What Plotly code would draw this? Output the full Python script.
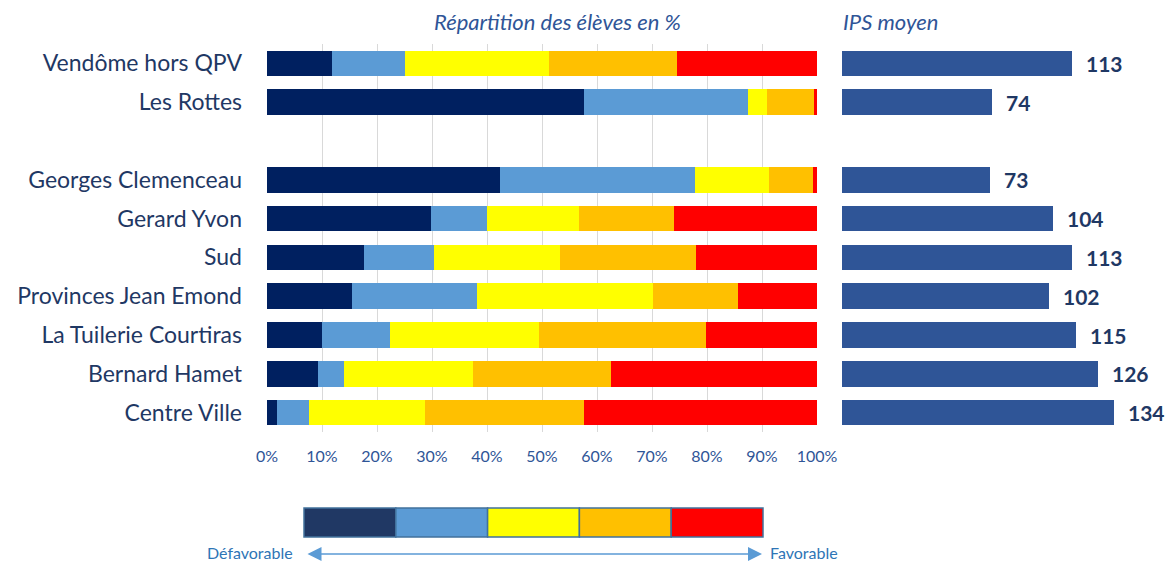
import plotly.graph_objects as go

W, H = 1173, 562

# Schools (top to bottom); " " is an empty spacer row
schools = ["Vendôme hors QPV", "Les Rottes", " ", "Georges Clemenceau", "Gerard Yvon",
           "Sud", "Provinces Jean Emond", "La Tuilerie Courtiras", "Bernard Hamet", "Centre Ville"]

# Share of pupils (%) per social-position group, from least to most favoured
grp1 = [11.8, 57.7, None, 42.4, 29.8, 17.6, 15.4, 10.0, 9.3, 1.8]
grp2 = [13.3, 29.7, None, 35.5, 10.2, 12.8, 22.7, 12.4, 4.7, 5.8]
grp3 = [26.1, 3.5, None, 13.4, 16.7, 22.8, 32.0, 27.0, 23.5, 21.2]
grp4 = [23.3, 8.5, None, 7.9, 17.3, 24.8, 15.5, 30.4, 25.0, 28.9]
grp5 = [25.5, 0.6, None, 0.8, 26.0, 22.0, 14.4, 20.2, 37.5, 42.3]

# Mean social-position index
ips = [113, 74, None, 73, 104, 113, 102, 115, 126, 134]

seg_colors = ["#002060", "#5B9BD5", "#FFFF00", "#FFC000", "#FF0000"]
key_colors = ["#203864", "#5B9BD5", "#FFFF00", "#FFC000", "#FF0000"]
x_ticks = [0, 10, 20, 30, 40, 50, 60, 70, 80, 90, 100]

NAVY = "#1F3864"
BLUE = "#2F5597"
FONT = "Lato"


def px_x(p):
    return p / W


def px_y(p):
    return 1 - p / H


fig = go.Figure()

for vals, col in zip([grp1, grp2, grp3, grp4, grp5], seg_colors):
    fig.add_trace(go.Bar(
        x=vals, y=schools, orientation="h", marker=dict(color=col, line=dict(width=0)),
        xaxis="x", yaxis="y", showlegend=False, hoverinfo="x+y",
    ))

fig.add_trace(go.Bar(
    x=ips, y=schools, orientation="h", marker=dict(color=BLUE, line=dict(width=0)),
    xaxis="x2", yaxis="y2", showlegend=False,
))

# Value labels next to the index bars
for s, v in zip(schools, ips):
    if v is None:
        continue
    fig.add_annotation(x=v, y=s, xref="x2", yref="y2", text=f"<b>{v}</b>", showarrow=False,
                       xanchor="left", xshift=12, font=dict(family=FONT, size=21, color=NAVY))

y_dom = [px_y(432), px_y(44)]
fig.update_layout(
    width=W, height=H, margin=dict(l=0, r=0, t=0, b=0, autoexpand=False),
    paper_bgcolor="white", plot_bgcolor="white",
    barmode="stack", bargap=0.34,
    font=dict(family=FONT, color=NAVY),
    xaxis=dict(domain=[px_x(267), px_x(817)], range=[0, 100], tickvals=x_ticks,
               ticktext=[f"{t}%" for t in x_ticks], showgrid=True, gridcolor="#D9D9D9",
               gridwidth=1, zeroline=False, showline=False, ticks="",
               tickfont=dict(family=FONT, size=16, color=BLUE), ticklabelstandoff=13,
               automargin=False, anchor="y"),
    yaxis=dict(domain=y_dom, categoryorder="array", categoryarray=schools,
               range=[len(schools) - 0.5, -0.5], showgrid=False, zeroline=False,
               tickfont=dict(family=FONT, size=23, color=NAVY), ticks="",
               ticklabelstandoff=24, automargin=False, anchor="x"),
    xaxis2=dict(domain=[px_x(842), px_x(1167)], range=[0, 160], visible=False,
                automargin=False, anchor="y2"),
    yaxis2=dict(domain=y_dom, categoryorder="array", categoryarray=schools,
                range=[len(schools) - 0.5, -0.5], visible=False, automargin=False,
                anchor="x2"),
)

# Panel headings
fig.add_annotation(x=px_x(557), y=px_y(22), xref="paper", yref="paper",
                   text="<i>Répartition des élèves en %</i>", showarrow=False,
                   xanchor="center", yanchor="middle", font=dict(family=FONT, size=22, color=BLUE))
fig.add_annotation(x=px_x(841), y=px_y(22), xref="paper", yref="paper",
                   text="<i>IPS moyen</i>", showarrow=False,
                   xanchor="left", yanchor="middle", font=dict(family=FONT, size=22, color=BLUE))

# Colour key below the chart
kx0, kx1, ky0, ky1 = 304, 763, 508, 537
step = (kx1 - kx0) / len(key_colors)
for i, col in enumerate(key_colors):
    fig.add_shape(type="rect", xref="paper", yref="paper",
                  x0=px_x(kx0 + i * step), x1=px_x(kx0 + (i + 1) * step),
                  y0=px_y(ky1), y1=px_y(ky0), fillcolor=col,
                  line=dict(color="#41719C", width=1.5))

# Double-headed arrow with its end labels
fig.add_annotation(x=px_x(762), y=px_y(554), xref="paper", yref="paper",
                   ax=-(762 - 306), ay=0, text="", showarrow=True,
                   arrowhead=2, startarrowhead=2, arrowside="end+start",
                   arrowsize=2, startarrowsize=2, arrowwidth=1.4, arrowcolor="#5B9BD5")
fig.add_annotation(x=px_x(295), y=px_y(552), xref="paper", yref="paper",
                   text="Défavorable", showarrow=False, xanchor="right", yanchor="middle",
                   font=dict(family=FONT, size=16, color="#2E75B6"))
fig.add_annotation(x=px_x(768), y=px_y(552), xref="paper", yref="paper",
                   text="Favorable", showarrow=False, xanchor="left", yanchor="middle",
                   font=dict(family=FONT, size=16, color="#2E75B6"))

fig.write_html("out.html")
